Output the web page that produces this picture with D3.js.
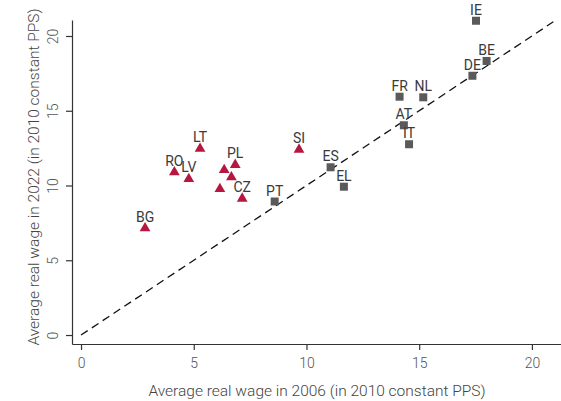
<!DOCTYPE html>
<html>
<head>
<meta charset="utf-8">
<script src="https://cdn.jsdelivr.net/npm/d3@7"></script>
<style>
  body { margin: 0; background: #fff; }
  svg text { font-family: Roboto, "Liberation Sans", sans-serif; font-weight: 400; }
</style>
</head>
<body>
<div class="canvas"></div>
<script>
// country codes, wage 2006 (x) and wage 2022 (y)
var eastCodes = ["LT", "RO", "LV", "PL", "", "", "", "CZ", "BG", "SI"];
var eastX = [5.28, 4.14, 4.78, 6.84, 6.35, 6.67, 6.16, 7.15, 2.84, 9.67];
var eastY = [12.5, 10.92, 10.48, 11.42, 11.08, 10.59, 9.81, 9.16, 7.18, 12.44];

var westCodes = ["PT", "ES", "EL", "FR", "NL", "AT", "IT", "DE", "BE", "IE"];
var westX = [8.59, 11.07, 11.66, 14.13, 15.18, 14.32, 14.55, 17.36, 17.99, 17.52];
var westY = [8.93, 11.22, 9.92, 15.94, 15.9, 14.03, 12.76, 17.34, 18.33, 21.02];

var tickValues = [0, 5, 10, 15, 20];
var xTitle = "Average real wage in 2006 (in 2010 constant PPS)";
var yTitle = "Average real wage in 2022 (in 2010 constant PPS)";

var width = 561, height = 401;
var svg = d3.select(".canvas").append("svg")
    .attr("width", width)
    .attr("height", height);

var x = d3.scaleLinear().domain([-0.4, 21.29]).range([72, 561]);
var y = d3.scaleLinear().domain([-0.6, 21.07]).range([344, 20]);

// axes
var xAxis = svg.append("g")
    .attr("transform", "translate(0," + 344 + ")")
    .call(d3.axisBottom(x).tickValues(tickValues).tickSize(6).tickPadding(8).tickSizeOuter(0));
var yAxis = svg.append("g")
    .attr("transform", "translate(" + 72 + ",0)")
    .call(d3.axisLeft(y).tickValues(tickValues).tickSize(6).tickSizeOuter(0));

xAxis.attr("font-family", null);
yAxis.attr("font-family", null);
svg.selectAll(".domain").attr("stroke", "#333").attr("stroke-width", 1.2);
svg.selectAll(".tick line").attr("stroke", "#333").attr("stroke-width", 1.2);
xAxis.selectAll(".tick text").attr("font-size", 14).attr("fill", "#555").style("font-weight", 300);

// y tick labels are vertical
yAxis.selectAll(".tick text")
    .attr("font-size", 14).attr("fill", "#555").style("font-weight", 300)
    .attr("x", 0).attr("dy", 0)
    .attr("text-anchor", "middle")
    .attr("transform", "translate(-14,0) rotate(-90)");

// 45 degree line
svg.append("line")
    .attr("x1", x(0)).attr("y1", y(0))
    .attr("x2", x(20.95)).attr("y2", y(20.95))
    .attr("stroke", "#111")
    .attr("stroke-width", 1.3)
    .attr("stroke-dasharray", "8,5");

var west = westCodes.map(function (c, i) { return { code: c, x: westX[i], y: westY[i] }; });
var east = eastCodes.map(function (c, i) { return { code: c, x: eastX[i], y: eastY[i] }; });

// squares
svg.append("g").selectAll("rect")
    .data(west)
    .enter().append("rect")
    .attr("x", d => x(d.x) - 4)
    .attr("y", d => y(d.y) - 4)
    .attr("width", 8)
    .attr("height", 8)
    .attr("fill", "#5a5a5a");

// triangles
var tri = d3.symbol().type(d3.symbolTriangle).size(50);
svg.append("g").selectAll("path")
    .data(east)
    .enter().append("path")
    .attr("d", tri)
    .attr("transform", d => "translate(" + x(d.x) + "," + (y(d.y) + 0.5) + ")")
    .attr("fill", "#b5173f");

// labels
svg.append("g").selectAll("text")
    .data(west.concat(east).filter(d => d.code))
    .enter().append("text")
    .attr("x", d => x(d.x))
    .attr("y", d => y(d.y) - 6)
    .attr("text-anchor", "middle")
    .attr("font-size", 14)
    .attr("fill", "#3a3a3a")
    .text(d => d.code);

// axis titles
svg.append("text")
    .attr("x", 317)
    .attr("y", 396)
    .attr("text-anchor", "middle")
    .attr("font-size", 15.5)
    .attr("fill", "#444")
    .style("font-weight", 300)
    .text(xTitle);

svg.append("text")
    .attr("transform", "translate(39,177) rotate(-90)")
    .attr("text-anchor", "middle")
    .attr("font-size", 15.5)
    .attr("fill", "#444")
    .style("font-weight", 300)
    .text(yTitle);
</script>
</body>
</html>
